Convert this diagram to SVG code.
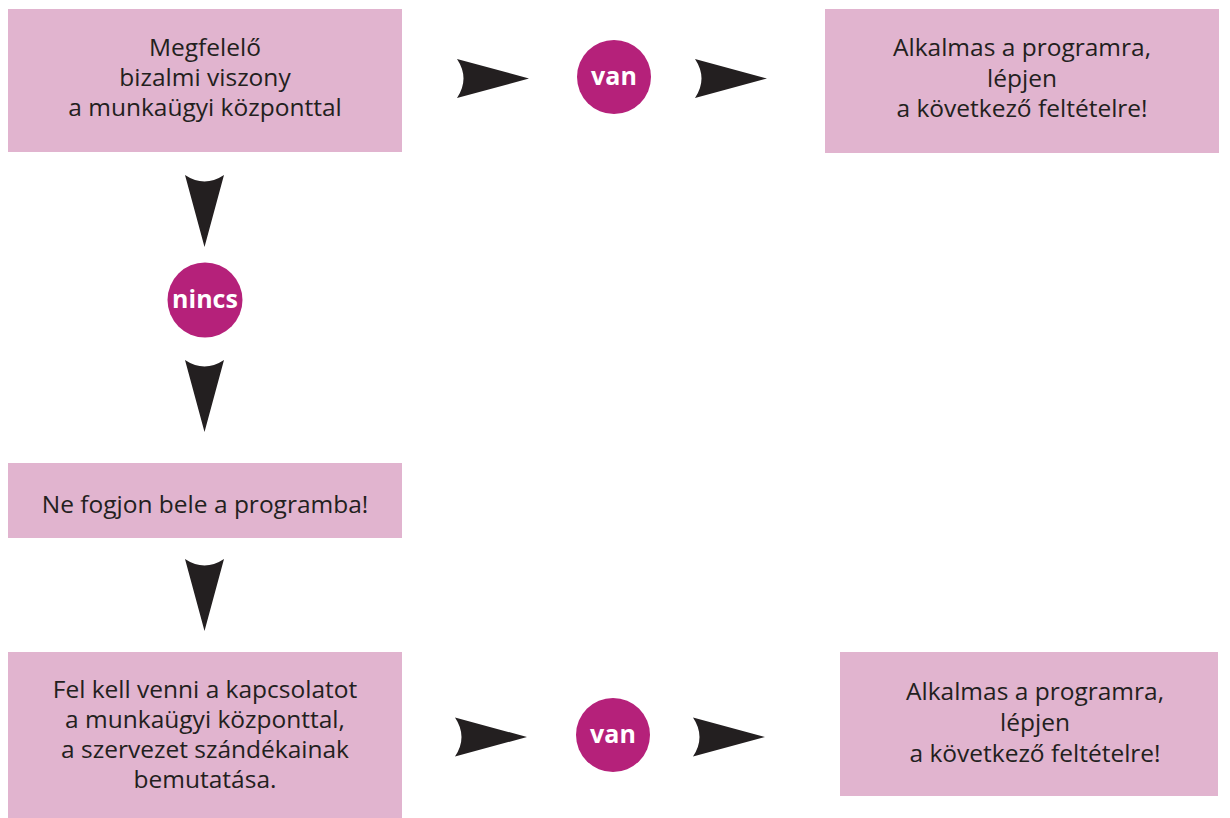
<svg xmlns="http://www.w3.org/2000/svg" xmlns:xlink="http://www.w3.org/1999/xlink" width="1230" height="818" viewBox="0 0 1230 818">
<style>
.box{fill:#e1b4cf}
.dec{fill:#b5217a}
.t{font-family:"Open Sans","Liberation Sans",sans-serif;font-size:24.5px;fill:#231f20;text-anchor:middle}
.c{font-family:"Open Sans","Liberation Sans",sans-serif;font-size:25px;font-weight:bold;fill:#ffffff;text-anchor:middle}
.arr{fill:#231f20}
</style>
<defs>
<path id="arrow" class="arr" d="M0,-19.5 L72,0 L0,19.5 Q13,0 0,-19.5 Z"/>
</defs>
<rect width="1230" height="818" fill="#ffffff"/>
<g id="connectors">
<use xlink:href="#arrow" transform="translate(457,78.5)"/>
<use xlink:href="#arrow" transform="translate(695,78.5)"/>
<use xlink:href="#arrow" transform="translate(204.5,175) rotate(90)"/>
<use xlink:href="#arrow" transform="translate(204.5,360) rotate(90)"/>
<use xlink:href="#arrow" transform="translate(204.5,559) rotate(90)"/>
<use xlink:href="#arrow" transform="translate(455,737)"/>
<use xlink:href="#arrow" transform="translate(693,737)"/>
</g>
<g id="start">
<rect class="box" x="8" y="9" width="394" height="143"/>
<text class="t" x="205" y="56">Megfelelő</text>
<text class="t" x="205" y="86">bizalmi viszony</text>
<text class="t" x="205" y="116">a munkaügyi központtal</text>
</g>
<g id="van1">
<circle class="dec" cx="614" cy="77" r="37"/>
<text class="c" x="614" y="85">van</text>
</g>
<g id="ok1">
<rect class="box" x="825" y="9" width="394" height="144"/>
<text class="t" x="1022" y="56">Alkalmas a programra,</text>
<text class="t" x="1022" y="87">lépjen</text>
<text class="t" x="1022" y="117">a következő feltételre!</text>
</g>
<g id="nincs">
<circle class="dec" cx="205" cy="300" r="37.5"/>
<text class="c" x="205" y="308">nincs</text>
</g>
<g id="stop">
<rect class="box" x="8" y="463" width="394" height="75"/>
<text class="t" x="205" y="513">Ne fogjon bele a programba!</text>
</g>
<g id="contact">
<rect class="box" x="8" y="652" width="394" height="166"/>
<text class="t" x="205" y="698">Fel kell venni a kapcsolatot</text>
<text class="t" x="205" y="728">a munkaügyi központtal,</text>
<text class="t" x="205" y="758">a szervezet szándékainak</text>
<text class="t" x="205" y="788">bemutatása.</text>
</g>
<g id="van2">
<circle class="dec" cx="613" cy="735" r="37"/>
<text class="c" x="613" y="743">van</text>
</g>
<g id="ok2">
<rect class="box" x="840" y="652" width="378" height="144"/>
<text class="t" x="1035" y="700">Alkalmas a programra,</text>
<text class="t" x="1035" y="731">lépjen</text>
<text class="t" x="1035" y="762">a következő feltételre!</text>
</g>
</svg>
